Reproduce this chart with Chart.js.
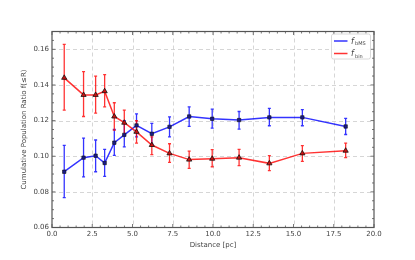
<!DOCTYPE html>
<html><head><meta charset="utf-8">
<script src="https://cdn.jsdelivr.net/npm/chart.js@4/dist/chart.umd.min.js"></script>
<style>html,body{margin:0;padding:0;background:#fff;}#wrap{width:415px;height:260px;}</style>
</head><body><div id="wrap"><canvas id="c" width="415" height="260"></canvas></div>
<script>
const distance = [0.76, 1.96, 2.71, 3.27, 3.87, 4.49, 5.25, 6.20, 7.30, 8.52, 9.95, 11.62, 13.50, 15.55, 18.24];
const fbMS     = [0.0913, 0.0992, 0.1003, 0.0962, 0.1076, 0.1120, 0.1173, 0.1126, 0.1165, 0.1223, 0.1210, 0.1203, 0.1218, 0.1218, 0.1167];
const fbMSLo   = [0.0768, 0.0884, 0.0913, 0.0887, 0.1005, 0.1053, 0.1109, 0.1068, 0.1109, 0.1167, 0.1158, 0.1152, 0.1171, 0.1171, 0.1122];
const fbMSHi   = [0.1061, 0.1102, 0.1091, 0.1038, 0.1150, 0.1199, 0.1238, 0.1184, 0.1221, 0.1277, 0.1264, 0.1251, 0.1268, 0.1262, 0.1212];
const fbin     = [0.1440, 0.1344, 0.1344, 0.1365, 0.1223, 0.1188, 0.1137, 0.1063, 0.1016, 0.0981, 0.0986, 0.0992, 0.0960, 0.1016, 0.1031];
const fbinLo   = [0.1259, 0.1223, 0.1242, 0.1277, 0.1147, 0.1120, 0.1074, 0.1009, 0.0966, 0.0932, 0.0941, 0.0947, 0.0919, 0.0971, 0.0992];
const fbinHi   = [0.1628, 0.1475, 0.1449, 0.1458, 0.1300, 0.1259, 0.1199, 0.1109, 0.1070, 0.1029, 0.1037, 0.1038, 0.1003, 0.1059, 0.1074];
const xTicks = [0, 2.5, 5, 7.5, 10, 12.5, 15, 17.5, 20];
const yTicks = [0.06, 0.08, 0.10, 0.12, 0.14, 0.16];
const legendLabels = [["f", "bMS"], ["f", "bin"]];

const BLUE = 'rgba(0,0,255,0.8)';
const RED = 'rgba(255,0,0,0.8)';
const FONT = 'DejaVu Sans';
const TXT = '#444';

function pts(ys){ return distance.map((x,i)=>({x:x,y:ys[i]})); }

const gridAndBars = {
  id:'gridAndBars',
  beforeDatasetsDraw(chart){
    const ctx = chart.ctx, a = chart.chartArea, xs = chart.scales.x, ys = chart.scales.y;
    ctx.save();
    ctx.strokeStyle = '#cccccc'; ctx.lineWidth = 0.8; ctx.setLineDash([4,3]);
    xTicks.forEach(v=>{ const px = Math.round(xs.getPixelForValue(v))+0.5;
      if (v===0||v===20) return;
      ctx.beginPath(); ctx.moveTo(px,a.top); ctx.lineTo(px,a.bottom); ctx.stroke(); });
    yTicks.forEach(v=>{ const py = Math.round(ys.getPixelForValue(v))+0.5;
      if (v===0.06) return;
      ctx.beginPath(); ctx.moveTo(a.left,py); ctx.lineTo(a.right,py); ctx.stroke(); });
    ctx.setLineDash([]);
    const sets = [[fbMSLo, fbMSHi, BLUE], [fbinLo, fbinHi, RED]];
    sets.forEach(([lo,hi,col])=>{
      ctx.strokeStyle = col; ctx.lineWidth = 1.3;
      distance.forEach((d,i)=>{
        const px = xs.getPixelForValue(d);
        const y1 = ys.getPixelForValue(lo[i]), y2 = ys.getPixelForValue(hi[i]);
        ctx.beginPath();
        ctx.moveTo(px,y1); ctx.lineTo(px,y2);
        ctx.moveTo(px-1.5,y1); ctx.lineTo(px+1.5,y1);
        ctx.moveTo(px-1.5,y2); ctx.lineTo(px+1.5,y2);
        ctx.stroke();
      });
    });
    ctx.restore();
  }
};

const frame = {
  id:'frame',
  afterDraw(chart){
    const ctx = chart.ctx, a = chart.chartArea, xs = chart.scales.x, ys = chart.scales.y;
    ctx.save();
    ctx.strokeStyle = '#555';
    const tick = (x1,y1,x2,y2)=>{ctx.beginPath();ctx.moveTo(x1,y1);ctx.lineTo(x2,y2);ctx.stroke();};
    ctx.lineWidth = 0.8;
    for(let v=0; v<=20.001; v+=0.5){
      const px = xs.getPixelForValue(v);
      const major = Math.abs(v/2.5 - Math.round(v/2.5))<1e-6;
      const L = major?3.5:2;
      tick(px,a.bottom,px,a.bottom-L); tick(px,a.top,px,a.top+L);
    }
    for(let v=0.06; v<=0.1701; v+=0.005){
      const py = ys.getPixelForValue(v);
      const major = Math.abs(v/0.02 - Math.round(v/0.02))<1e-6;
      const L = major?3.5:2;
      tick(a.left,py,a.left+L,py); tick(a.right,py,a.right-L,py);
    }
    ctx.lineWidth = 1.2;
    ctx.strokeRect(a.left, a.top, a.right-a.left, a.bottom-a.top);
    // legend
    const bx = 331.5, by = 34, bw = 39, bh = 25;
    ctx.fillStyle = 'rgba(255,255,255,0.9)';
    ctx.strokeStyle = '#d0d0d0'; ctx.lineWidth = 0.8;
    ctx.beginPath();
    if (ctx.roundRect) ctx.roundRect(bx,by,bw,bh,2); else ctx.rect(bx,by,bw,bh);
    ctx.fill(); ctx.stroke();
    const cols = [BLUE, RED];
    legendLabels.forEach((lab,i)=>{
      const ly = by + 7 + i*12.5;
      ctx.strokeStyle = cols[i]; ctx.lineWidth = 1.5;
      tick(bx+2.5, ly, bx+16, ly);
      ctx.fillStyle = TXT; ctx.textBaseline = 'alphabetic'; ctx.textAlign='left';
      ctx.font = 'italic 8px '+FONT;
      ctx.fillText(lab[0], bx+19.5, ly+2.5);
      ctx.font = '5px '+FONT;
      ctx.fillText(lab[1], bx+23.5, ly+4);
    });
    ctx.restore();
  }
};

new Chart(document.getElementById('c'), {
  type:'line',
  data:{ datasets:[
    { label:'fbMS', data:pts(fbMS), borderColor:BLUE, borderWidth:1.5, backgroundColor:'#1a1a80',
      pointStyle:'rect', pointRadius:2.4, pointBorderColor:'#111', pointBorderWidth:0.6, pointBackgroundColor:'#1a1a8a', order:2, tension:0 },
    { label:'fbin', data:pts(fbin), borderColor:RED, borderWidth:1.5, backgroundColor:'#c00',
      pointStyle:'triangle', pointRadius:3, pointBorderColor:'#111', pointBorderWidth:0.8, pointBackgroundColor:'#d01010', order:1, tension:0 }
  ]},
  options:{
    responsive:false, animation:false, devicePixelRatio:1,
    layout:{padding:{top:31.5, right:41, left:20, bottom:11}},
    plugins:{legend:{display:false}, tooltip:{enabled:false}},
    scales:{
      x:{ type:'linear', min:0, max:20,
        afterBuildTicks(s){ s.ticks = xTicks.map(v=>({value:v})); },
        afterFit(s){ s.height = 21.5; },
        ticks:{ callback:v=>v.toFixed(1), font:{family:FONT,size:7}, color:TXT, padding:2, maxRotation:0, autoSkip:false },
        grid:{ display:false, drawTicks:false, tickLength:0 },
        border:{display:false},
        title:{ display:true, text:'Distance [pc]', font:{family:FONT,size:7}, color:TXT, padding:{top:2,bottom:0} }
      },
      y:{ type:'linear', min:0.06, max:0.17,
        afterBuildTicks(s){ s.ticks = yTicks.map(v=>({value:v})); },
        afterFit(s){ s.width = 32; },
        ticks:{ callback:v=>v.toFixed(2), font:{family:FONT,size:7}, color:TXT, padding:3, autoSkip:false },
        grid:{ display:false, drawTicks:false, tickLength:0 },
        border:{display:false},
        title:{ display:true, text:'Cumulative Population Ratio f(≤R)', font:{family:FONT,size:7}, color:TXT, padding:{top:0,bottom:0} }
      }
    }
  },
  plugins:[gridAndBars, frame]
});
</script></body></html>
